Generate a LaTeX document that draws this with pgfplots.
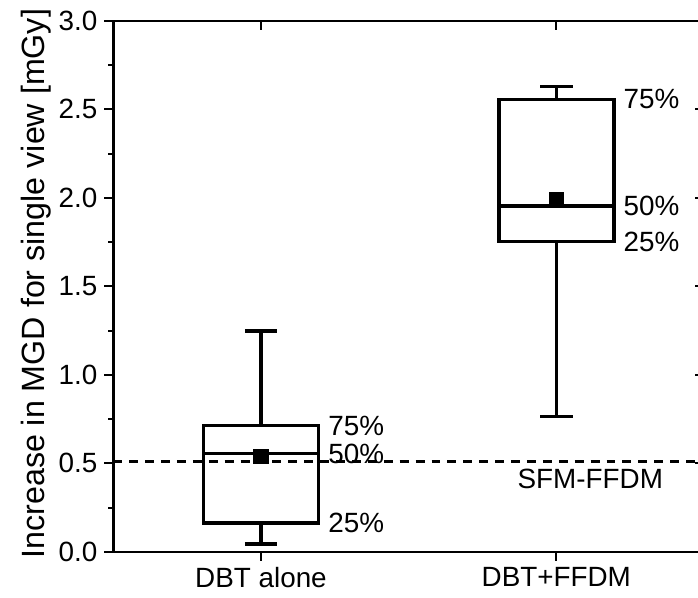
\documentclass[border=0pt]{standalone}
\usepackage{fontspec}
\setmainfont{Liberation Sans}
\usepackage{pgfplots}
\pgfplotsset{compat=1.18}
\usepgfplotslibrary{statistics}

\begin{document}
\begin{tikzpicture}
\pgfplotsset{
  frame/.style={width=297pt, height=267pt, scale only axis,
    xmin=0.5, xmax=2.5, ymin=0, ymax=3,
    xtick={1,2}, ytick={0,0.5,...,3.0}, minor y tick num=1,
    major tick length=4.5pt, minor tick length=2.5pt,
    tick style={black, line width=1.1pt}}
}
\begin{axis}[name=main, frame,
  xticklabels={DBT alone, DBT+FFDM},
  yticklabel style={/pgf/number format/.cd, fixed, fixed zerofill, precision=1},
  /pgf/number format/assume math mode=true,
  tick align=outside, xtick pos=bottom, ytick pos=left,
  axis line style={line width=1.2pt},
  ticklabel style={font=\fontsize{14}{16}\selectfont},
  ylabel={Increase in MGD for single view [mGy]},
  ylabel style={font=\fontsize{16.2}{18}\selectfont, at={(axis description cs:-0.13,0.505)}, anchor=center},
  boxplot/draw direction=y,
  boxplot/box extend=0.39, boxplot/whisker extend=0.11,
  clip=false]
% SFM-FFDM reference level
\addplot[black, line width=1.2pt, dash pattern=on 4.5pt off 3.5pt] coordinates {(0.5,0.51) (2.5,0.51)};
\addplot[black, line width=1.8pt, boxplot prepared={draw position=1,
  lower whisker=0.045, lower quartile=0.163, median=0.556,
  upper quartile=0.713, upper whisker=1.247}] coordinates {};
\addplot[black, line width=1.8pt, boxplot prepared={draw position=2,
  lower whisker=0.764, lower quartile=1.753, median=1.955,
  upper quartile=2.556, upper whisker=2.63}] coordinates {};
% means
\addplot[black, only marks, mark=square*, mark size=3.6pt] coordinates {(1,0.54) (2,1.99)};
\begin{scope}[every node/.style={anchor=west, inner sep=0pt, font=\fontsize{14}{16}\selectfont}]
\node at (axis cs:1.2,0.713) [xshift=4pt] {75\%};
\node at (axis cs:1.2,0.556) [xshift=4pt] {50\%};
\node at (axis cs:1.2,0.163) [xshift=4pt] {25\%};
\node at (axis cs:2.2,2.556) [xshift=4pt] {75\%};
\node at (axis cs:2.2,1.955) [xshift=4pt] {50\%};
\node at (axis cs:2.2,1.753) [xshift=4pt] {25\%};
\end{scope}
\node[font=\fontsize{14}{16}\selectfont] at (axis cs:2.115,0.41) {SFM-FFDM};
\end{axis}
\begin{axis}[frame, axis line style={draw=none},
  xticklabels={}, yticklabels={}, tick align=inside,
  xtick pos=top, ytick pos=right]
\end{axis}
\pgfresetboundingbox
\path[use as bounding box] ([xshift=-57pt,yshift=-23pt]main.south west) rectangle ([xshift=-3pt,yshift=10.5pt]main.north east);
\end{tikzpicture}
\end{document}
